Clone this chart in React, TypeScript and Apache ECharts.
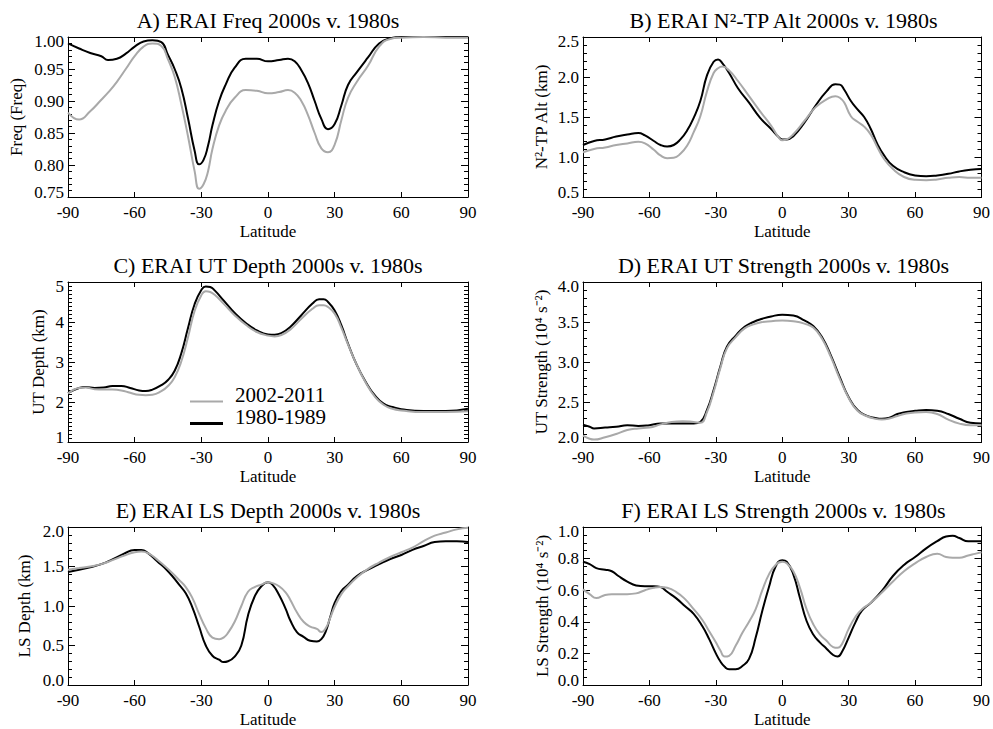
import React, { useEffect, useRef } from 'react';
import * as echarts from 'echarts';

const FONT = "'Liberation Serif', 'Times New Roman', serif";
const GRAY = '#a9a9a9';

// ---- Panel A: Freq ----
const latA = [-90,-85,-80,-75,-72,-68,-64,-60,-56,-52,-48,-45,-42,-39,-36,-33,-31,-29,-27,-25,-22,-19,-15,-10,-5,0,5,9,12,15,18,21,24,27,30,33,36,40,45,50,55,60,70,80,90];
const freqOld = [0.990,0.982,0.975,0.970,0.964,0.966,0.974,0.985,0.993,0.995,0.992,0.972,0.950,0.920,0.873,0.822,0.801,0.808,0.830,0.862,0.900,0.926,0.952,0.966,0.966,0.962,0.964,0.966,0.962,0.948,0.928,0.900,0.872,0.856,0.864,0.893,0.925,0.945,0.968,0.990,0.998,1.000,1.000,1.000,1.000];
const freqNew = [0.882,0.871,0.884,0.902,0.913,0.930,0.950,0.970,0.985,0.990,0.986,0.965,0.938,0.895,0.845,0.790,0.763,0.770,0.790,0.825,0.862,0.885,0.905,0.917,0.916,0.912,0.914,0.917,0.913,0.900,0.878,0.850,0.826,0.820,0.832,0.870,0.905,0.930,0.955,0.985,0.997,0.999,1.000,0.999,0.999];

// ---- Panel B: N2-TP Alt ----
const latB = [-90,-85,-80,-75,-70,-65,-62,-58,-55,-52,-49,-46,-43,-40,-37,-34,-31,-29,-27,-24,-20,-15,-10,-5,-2,0,2,5,10,15,20,24,26,28,31,34,37,40,43,46,50,55,60,65,70,75,80,85,90];
const altOld = [1.15,1.20,1.22,1.255,1.28,1.30,1.27,1.20,1.15,1.13,1.15,1.22,1.33,1.49,1.70,2.02,2.19,2.22,2.17,2.05,1.86,1.68,1.49,1.35,1.26,1.22,1.22,1.26,1.43,1.64,1.82,1.91,1.905,1.84,1.70,1.595,1.50,1.35,1.16,1.02,0.89,0.81,0.77,0.76,0.77,0.79,0.82,0.84,0.85];
const altNew = [1.06,1.10,1.12,1.15,1.17,1.19,1.17,1.09,1.02,0.985,0.99,1.04,1.14,1.31,1.51,1.82,2.05,2.11,2.13,2.08,1.95,1.76,1.57,1.39,1.26,1.21,1.22,1.285,1.45,1.62,1.72,1.76,1.74,1.68,1.51,1.44,1.38,1.28,1.12,0.975,0.85,0.75,0.715,0.71,0.72,0.74,0.75,0.74,0.74];

// ---- Panel C: UT Depth ----
const latC = [-90,-85,-82,-78,-74,-70,-66,-62,-58,-55,-52,-48,-45,-42,-39,-36,-33,-30,-28,-26,-24,-20,-15,-10,-5,0,3,6,10,15,20,23,25,27,30,33,36,40,44,48,52,56,60,70,80,90];
const utDepthOld = [2.225,2.35,2.375,2.35,2.36,2.40,2.40,2.35,2.29,2.275,2.31,2.42,2.55,2.78,3.22,3.85,4.45,4.80,4.89,4.875,4.79,4.54,4.225,3.975,3.79,3.69,3.68,3.72,3.875,4.17,4.46,4.57,4.57,4.50,4.29,3.92,3.46,2.92,2.50,2.17,1.96,1.875,1.82,1.775,1.775,1.83];
const utDepthNew = [2.21,2.35,2.36,2.32,2.31,2.31,2.29,2.23,2.18,2.17,2.18,2.27,2.40,2.62,3.02,3.62,4.28,4.67,4.77,4.75,4.68,4.46,4.17,3.93,3.75,3.66,3.64,3.675,3.81,4.08,4.33,4.42,4.42,4.375,4.21,3.86,3.44,2.92,2.48,2.14,1.93,1.83,1.79,1.75,1.75,1.77];

// ---- Panel D: UT Strength ----
const latD = [-90,-87,-85,-80,-75,-70,-65,-60,-55,-50,-45,-40,-37,-34,-31,-28,-25,-21,-17,-13,-9,-5,0,5,10,14,18,22,26,30,34,38,42,45,48,52,56,60,65,70,75,80,85,90];
const utStrOld = [2.217,2.19,2.17,2.18,2.19,2.21,2.20,2.21,2.23,2.23,2.23,2.23,2.25,2.40,2.65,2.94,3.19,3.33,3.44,3.50,3.54,3.57,3.59,3.58,3.52,3.45,3.31,3.08,2.81,2.56,2.40,2.33,2.30,2.29,2.30,2.35,2.375,2.39,2.40,2.39,2.35,2.29,2.24,2.23];
const utStrNew = [2.08,2.04,2.03,2.06,2.10,2.15,2.17,2.18,2.22,2.25,2.26,2.25,2.24,2.375,2.625,2.92,3.17,3.31,3.42,3.47,3.50,3.51,3.52,3.51,3.48,3.43,3.29,3.06,2.79,2.55,2.39,2.325,2.29,2.28,2.29,2.325,2.355,2.37,2.375,2.35,2.28,2.23,2.21,2.21];

// ---- Panel E: LS Depth ----
const latE = [-90,-85,-80,-75,-70,-65,-60,-57,-54,-50,-45,-40,-37,-34,-31,-28,-25,-22,-20,-18,-15,-12,-9,-6,-3,0,2,5,8,10,13,16,19,22,24,26,28,30,33,36,40,45,50,55,60,65,70,75,80,85,90];
const lsDepthOld = [1.43,1.46,1.49,1.53,1.59,1.66,1.71,1.71,1.67,1.57,1.44,1.27,1.16,0.98,0.74,0.50,0.37,0.32,0.29,0.30,0.36,0.50,0.88,1.12,1.25,1.30,1.27,1.14,0.96,0.82,0.67,0.61,0.56,0.55,0.58,0.68,0.86,1.04,1.19,1.27,1.38,1.46,1.53,1.595,1.645,1.71,1.76,1.81,1.82,1.82,1.81];
const lsDepthNew = [1.46,1.48,1.50,1.53,1.58,1.635,1.68,1.69,1.67,1.59,1.47,1.33,1.24,1.10,0.90,0.72,0.60,0.58,0.60,0.66,0.80,1.00,1.18,1.24,1.27,1.30,1.29,1.25,1.17,1.08,0.92,0.80,0.74,0.71,0.67,0.72,0.85,0.99,1.15,1.25,1.36,1.47,1.55,1.62,1.68,1.74,1.82,1.89,1.93,1.97,1.99];

// ---- Panel F: LS Strength ----
const latF = [-90,-87,-84,-80,-77,-74,-70,-66,-62,-58,-55,-52,-48,-44,-40,-36,-33,-30,-28,-26,-24,-21,-18,-15,-12,-9,-6,-3,0,2,5,8,11,14,17,20,23,25,27,30,33,36,40,45,50,55,60,65,70,74,77,80,84,87,90];
const lsStrOld = [0.78,0.765,0.74,0.73,0.72,0.69,0.655,0.63,0.625,0.625,0.62,0.59,0.55,0.50,0.45,0.37,0.29,0.20,0.15,0.115,0.10,0.10,0.12,0.165,0.30,0.47,0.62,0.75,0.79,0.78,0.70,0.55,0.405,0.32,0.27,0.23,0.19,0.18,0.21,0.30,0.395,0.47,0.52,0.595,0.69,0.76,0.81,0.865,0.91,0.94,0.945,0.93,0.91,0.91,0.91];
const lsStrNew = [0.605,0.575,0.55,0.57,0.575,0.575,0.575,0.58,0.60,0.615,0.62,0.615,0.59,0.545,0.48,0.41,0.34,0.27,0.22,0.18,0.185,0.25,0.33,0.40,0.48,0.60,0.70,0.76,0.78,0.77,0.72,0.615,0.48,0.385,0.32,0.28,0.24,0.235,0.26,0.355,0.43,0.48,0.52,0.585,0.655,0.72,0.77,0.81,0.83,0.81,0.805,0.805,0.82,0.83,0.84];

const latTicks = { min: -90, max: 90, interval: 30 };
const seriesNames = { newer: '2002-2011', older: '1980-1989' };

const panels = [
  { title: 'A) ERAI Freq 2000s v. 1980s', yName: 'Freq (Freq)', lat: latA, older: freqOld, newer: freqNew, min: 0.75, max: 1.0, interval: 0.05, minor: 5, digits: 2, left: 68, top: 37, width: 400, nameGap: 43 },
  { title: 'B) ERAI N\u00B2-TP Alt 2000s v. 1980s', yName: 'N\u00B2-TP Alt (km)', lat: latB, older: altOld, newer: altNew, min: 0.5, max: 2.5, interval: 0.5, minor: 5, digits: 1, left: 583, top: 37, width: 401, nameGap: 33 },
  { title: 'C) ERAI UT Depth 2000s v. 1980s', yName: 'UT Depth (km)', lat: latC, older: utDepthOld, newer: utDepthNew, min: 1, max: 5, interval: 1, minor: 10, digits: 0, left: 68, top: 282, width: 400, nameGap: 21 },
  { title: 'D) ERAI UT Strength 2000s v. 1980s', yName: 'UT Strength (10\u2074 s\u207B\u00B2)', lat: latD, older: utStrOld, newer: utStrNew, min: 2.0, max: 4.0, interval: 0.5, minor: 5, digits: 1, left: 583, top: 282, width: 401, nameGap: 33 },
  { title: 'E) ERAI LS Depth 2000s v. 1980s', yName: 'LS Depth (km)', lat: latE, older: lsDepthOld, newer: lsDepthNew, min: 0, max: 2.0, interval: 0.5, minor: 5, digits: 1, left: 68, top: 527, width: 400, nameGap: 35 },
  { title: 'F) ERAI LS Strength 2000s v. 1980s', yName: 'LS Strength (10\u2074 s\u207B\u00B2)', lat: latF, older: lsStrOld, newer: lsStrNew, min: 0, max: 1.0, interval: 0.2, minor: 4, digits: 1, left: 583, top: 527, width: 401, nameGap: 32 },
];

const PH = 160;
const LABEL_FS = 17;
const TITLE_FS = 22;
const LEGEND_FS = 21;
const axisLine = { show: true, onZero: false, lineStyle: { color: '#000', width: 1 } };
const tickStyle = { color: '#000', width: 1 };

function buildOption() {
  const grid = panels.map((p) => ({ left: p.left, top: p.top, width: p.width, height: PH, containLabel: false }));
  const xAxis: any[] = [];
  const yAxis: any[] = [];
  const series: any[] = [];
  const graphic: any[] = [];
  panels.forEach((p, i) => {
    xAxis.push({
      type: 'value', gridIndex: i, position: 'bottom', ...latTicks,
      axisLine, axisTick: { show: true, inside: true, length: 5, lineStyle: tickStyle },
      splitLine: { show: false },
      axisLabel: { show: true, margin: 7, fontSize: LABEL_FS, fontFamily: FONT, color: '#000', showMinLabel: true, showMaxLabel: true },
      name: 'Latitude', nameLocation: 'middle', nameGap: 26,
      nameTextStyle: { fontSize: LABEL_FS, fontFamily: FONT, color: '#000' },
    });
    xAxis.push({
      type: 'value', gridIndex: i, position: 'top', ...latTicks,
      axisLine, axisTick: { show: true, inside: true, length: 5, lineStyle: tickStyle },
      splitLine: { show: false }, axisLabel: { show: false },
    });
    const yBase = {
      type: 'value', gridIndex: i, min: p.min, max: p.max, interval: p.interval,
      axisLine, axisTick: { show: true, inside: true, length: 7, lineStyle: tickStyle },
      minorTick: { show: true, splitNumber: p.minor, length: 4, lineStyle: tickStyle },
      splitLine: { show: false }, minorSplitLine: { show: false },
    };
    yAxis.push({
      ...yBase, position: 'left',
      axisLabel: {
        show: true, margin: 4, fontSize: LABEL_FS, fontFamily: FONT, color: '#000', lineHeight: 9,
        showMinLabel: true, showMaxLabel: true,
        verticalAlignMinLabel: 'bottom', verticalAlignMaxLabel: 'top',
        formatter: (v: number) => v.toFixed(p.digits),
      },
      name: p.yName, nameLocation: 'middle', nameRotate: 90, nameGap: p.nameGap,
      nameTextStyle: { fontSize: LABEL_FS, fontFamily: FONT, color: '#000' },
    });
    yAxis.push({ ...yBase, position: 'right', axisLabel: { show: false } });
    series.push({
      type: 'line', name: seriesNames.older, xAxisIndex: 2 * i, yAxisIndex: 2 * i,
      data: p.lat.map((x, k) => [x, p.older[k]]),
      showSymbol: false, smooth: 0.5, clip: true,
      lineStyle: { color: '#000', width: 2 }, itemStyle: { color: '#000' }, z: 2,
    });
    series.push({
      type: 'line', name: seriesNames.newer, xAxisIndex: 2 * i, yAxisIndex: 2 * i,
      data: p.lat.map((x, k) => [x, p.newer[k]]),
      showSymbol: false, smooth: 0.5, clip: true,
      lineStyle: { color: GRAY, width: 2 }, itemStyle: { color: GRAY }, z: 3,
    });
    graphic.push({
      type: 'text', x: p.left + p.width / 2, y: p.top - 17, silent: true,
      style: { text: p.title, fontSize: TITLE_FS, fontFamily: FONT, fill: '#000', align: 'center', verticalAlign: 'middle' },
    });
  });
  // legend drawn inside panel C
  graphic.push(
    { type: 'line', silent: true, shape: { x1: 190, y1: 401.5, x2: 223, y2: 401.5 }, style: { stroke: GRAY, lineWidth: 2 } },
    { type: 'line', silent: true, shape: { x1: 190, y1: 423.5, x2: 223, y2: 423.5 }, style: { stroke: '#000', lineWidth: 3 } },
    { type: 'text', silent: true, x: 235, y: 394.5, style: { text: seriesNames.newer, fontSize: LEGEND_FS, fontFamily: FONT, fill: '#000', align: 'left', verticalAlign: 'middle' } },
    { type: 'text', silent: true, x: 235, y: 416.5, style: { text: seriesNames.older, fontSize: LEGEND_FS, fontFamily: FONT, fill: '#000', align: 'left', verticalAlign: 'middle' } },
  );
  return { animation: false, backgroundColor: '#fff', grid, xAxis, yAxis, series, graphic };
}

export default function App() {
  const ref = useRef<HTMLDivElement>(null);
  useEffect(() => {
    document.body.style.margin = '0';
    const chart = echarts.init(ref.current!, null, { renderer: 'svg' });
    chart.setOption(buildOption() as any);
    return () => chart.dispose();
  }, []);
  return <div ref={ref} style={{ width: 993, height: 729 }} />;
}
